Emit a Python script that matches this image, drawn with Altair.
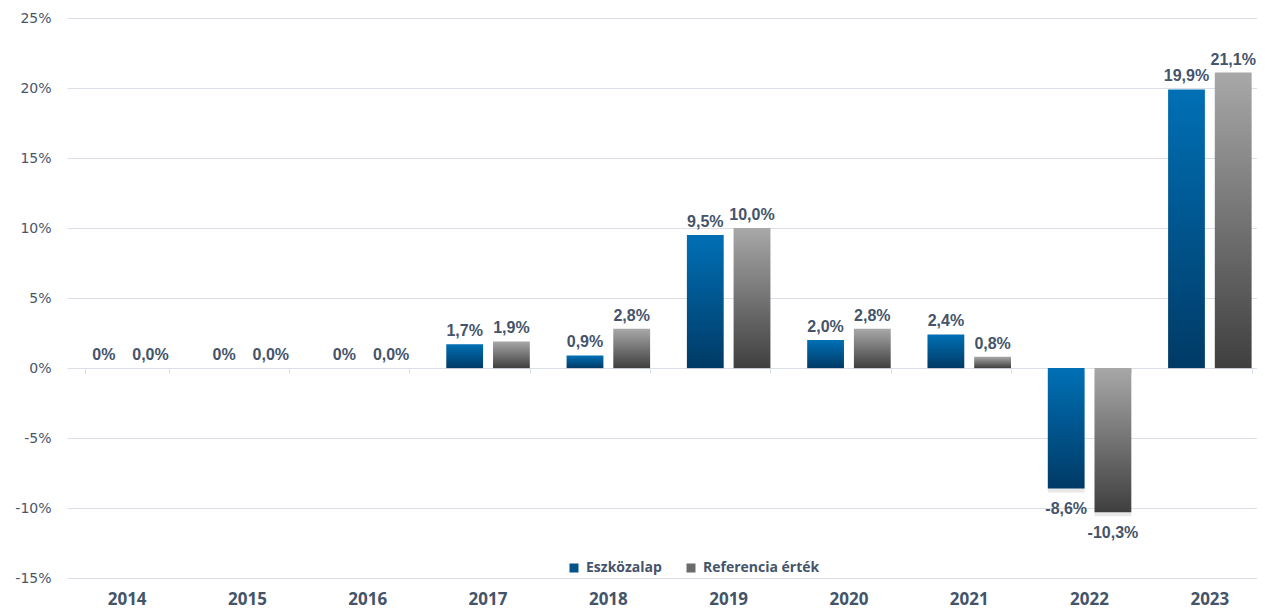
import altair as alt
import pandas as pd

years = ["2014", "2015", "2016", "2017", "2018", "2019", "2020", "2021", "2022", "2023"]
fund = [0, 0, 0, 1.7, 0.9, 9.5, 2.0, 2.4, -8.6, 19.9]
ref = [0.0, 0.0, 0.0, 1.9, 2.8, 10.0, 2.8, 0.8, -10.3, 21.1]
series = ["Eszközalap", "Referencia érték"]
y_ticks = [-0.15, -0.10, -0.05, 0.0, 0.05, 0.10, 0.15, 0.20, 0.25]


def fmt(v, zero_plain):
    if v == 0 and zero_plain:
        return "0%"
    return f"{v:.1f}".replace(".", ",") + "%"


rows = []
for yr, a, b in zip(years, fund, ref):
    rows.append(dict(year=yr, series=series[0], value=a / 100, label=fmt(a, True)))
    rows.append(dict(year=yr, series=series[1], value=b / 100, label=fmt(b, False)))
df = pd.DataFrame(rows)

TEXT = "#44546A"
GRID = "#D9DEE7"

x_scale = alt.Scale(paddingInner=0.306, paddingOuter=0.153, range=[0, 1203])


def xenc(axis):
    return alt.X("year:N", sort=years, scale=x_scale, axis=axis)


label_axis = alt.Axis(
    title=None, orient="bottom", labelAngle=0, domain=False, ticks=False, grid=False,
    labelFont="Open Sans", labelFontWeight="bold", labelFontSize=17,
    labelColor=TEXT, labelPadding=26, labelBaseline="alphabetic",
)
tick_axis = alt.Axis(
    title=None, orient="bottom", offset=-210, labels=False, ticks=True,
    tickBand="extent", tickSize=5, tickColor=GRID, tickWidth=1,
    domain=False, grid=False,
)

y = alt.Y(
    "value:Q",
    scale=alt.Scale(domain=[-0.15, 0.25], nice=False, zero=True),
    axis=alt.Axis(
        title=None, values=y_ticks, domain=False, ticks=False,
        gridColor=GRID, gridWidth=1,
        labelExpr="(datum.value < 0 ? '-' : '') + format(abs(datum.value) * 100, '.0f') + '%'",
        labelFont="DejaVu Sans", labelFontSize=14, labelColor="#4A5568", labelPadding=16,
    ),
)
xoff = alt.XOffset("series:N", sort=series, scale=alt.Scale(domain=series, paddingInner=0.213))

base = alt.Chart(df).encode(x=xenc(None), xOffset=xoff, y=y)

blue_grad = alt.Gradient(
    gradient="linear",
    stops=[alt.GradientStop(color="#0070B5", offset=0), alt.GradientStop(color="#003A66", offset=1)],
    x1=0, x2=0, y1=0, y2=1,
)
gray_grad = alt.Gradient(
    gradient="linear",
    stops=[alt.GradientStop(color="#A8A8A8", offset=0), alt.GradientStop(color="#3F3F3F", offset=1)],
    x1=0, x2=0, y1=0, y2=1,
)

shadow_pos = base.transform_filter(alt.datum.value >= 0).mark_bar(
    color="#000000", opacity=0.09, yOffset=1, y2Offset=4
).encode(x=xenc(tick_axis))
shadow_neg = base.transform_filter(alt.datum.value < 0).mark_bar(
    color="#000000", opacity=0.09, yOffset=4, y2Offset=1
)

blue = base.transform_filter(alt.datum.series == series[0]).mark_bar(color=blue_grad).encode(
    x=xenc(label_axis)
)
gray = base.transform_filter(alt.datum.series == series[1]).mark_bar(color=gray_grad)

legend_layer = base.mark_square(opacity=0, size=0).encode(
    color=alt.Color(
        "series:N",
        sort=series,
        scale=alt.Scale(domain=series, range=["#00528C", "#6B6B6B"]),
        legend=alt.Legend(
            title=None, orient="none", direction="horizontal", legendX=500, legendY=543,
            symbolType="square", symbolSize=81, symbolOpacity=1, symbolStrokeWidth=0,
            labelFont="Open Sans", labelFontWeight="bold", labelFontSize=14, labelColor=TEXT,
            labelOffset=5, columnPadding=22, padding=0,
        ),
    )
)

text_style = dict(font="Liberation Sans", fontWeight="bold", fontSize=16, color=TEXT)
pos_text = base.transform_filter(alt.datum.value >= 0).mark_text(
    baseline="bottom", dy=-5, **text_style
).encode(text="label:N")
neg_text = base.transform_filter(alt.datum.value < 0).mark_text(
    baseline="top", dy=13, **text_style
).encode(text="label:N")

chart = (
    alt.layer(shadow_pos, shadow_neg, blue, gray, legend_layer, pos_text, neg_text)
    .resolve_axis(x="independent")
    .properties(
        width=1190, height=560,
        autosize=alt.AutoSizeParams(type="none"),
        padding={"left": 59, "top": 10, "right": 0, "bottom": 31},
    )
    .configure_view(stroke=None)
)

chart.save("out.html", embed_options={"renderer": "svg", "actions": False})
